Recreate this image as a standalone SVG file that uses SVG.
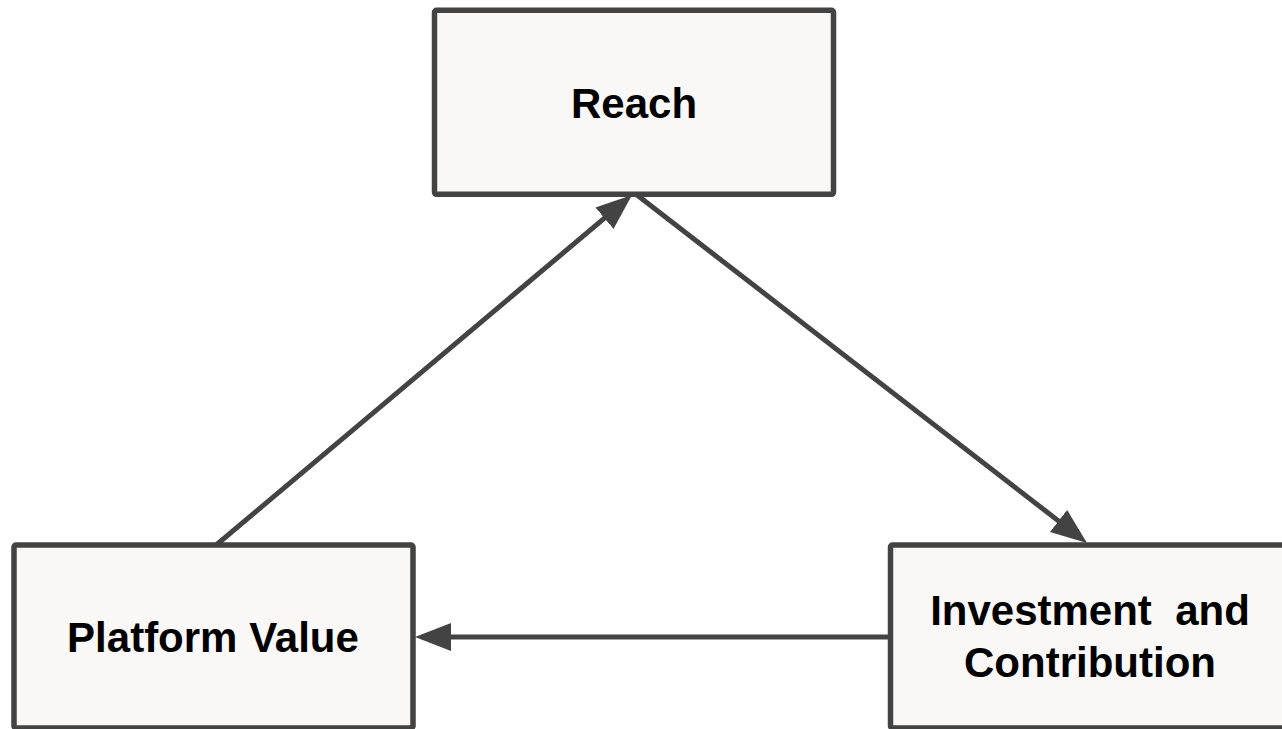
<svg xmlns="http://www.w3.org/2000/svg" width="1282" height="729" viewBox="0 0 1282 729">
  <style>
    .box { fill: #f9f8f6; stroke: #434343; stroke-width: 5.5; }
    .lbl { font-family: "Liberation Sans", Arial, sans-serif; font-weight: bold; font-size: 42px; fill: #000000; text-anchor: middle; }
    .edge { fill: none; stroke: #434343; stroke-width: 5; }
  </style>
  <defs>
    <marker id="arrow" markerUnits="userSpaceOnUse" markerWidth="38" markerHeight="30" refX="26" refY="14" orient="auto">
      <path d="M0,0 L36,14 L0,28 Z" fill="#434343"/>
    </marker>
  </defs>
  <rect width="1282" height="729" fill="#ffffff"/>
  <g id="connectors">
    <line class="edge" x1="215" y1="546" x2="624.35" y2="201.44" marker-end="url(#arrow)"/>
    <line class="edge" x1="637" y1="195" x2="1079.09" y2="536.88" marker-end="url(#arrow)"/>
    <line class="edge" x1="889" y1="637" x2="425" y2="637" marker-end="url(#arrow)"/>
  </g>
  <g id="node-reach">
    <rect class="box" x="434.5" y="10.3" width="399" height="184" rx="2"/>
    <text class="lbl" x="634" y="118">Reach</text>
  </g>
  <g id="node-platform-value">
    <rect class="box" x="14" y="545" width="399" height="183" rx="2"/>
    <text class="lbl" x="213" y="652">Platform Value</text>
  </g>
  <g id="node-investment">
    <rect class="box" x="890.5" y="545" width="399" height="183" rx="2"/>
    <text class="lbl" x="1090" y="625" xml:space="preserve">Investment  and</text>
    <text class="lbl" x="1090" y="677">Contribution</text>
  </g>
</svg>
